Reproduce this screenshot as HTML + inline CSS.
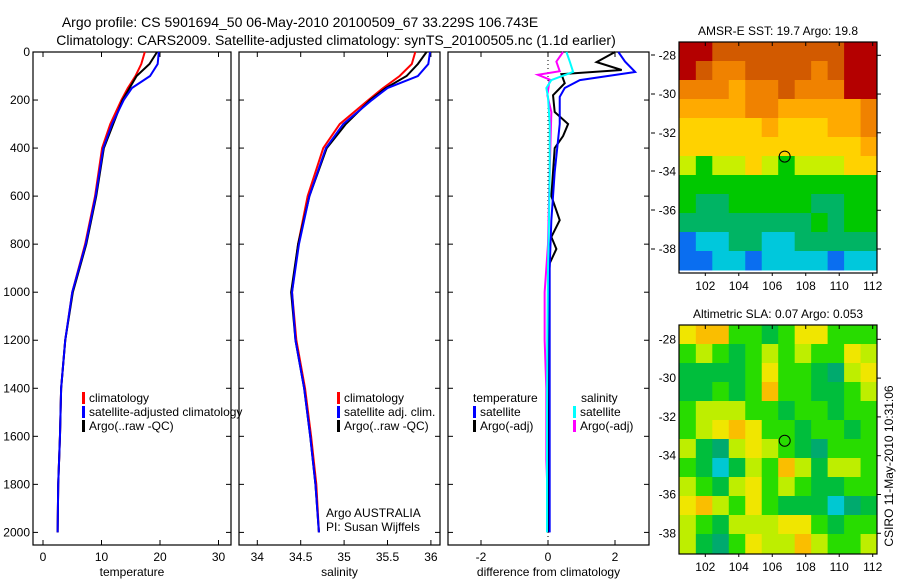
<!DOCTYPE html>
<html><head><meta charset="utf-8">
<style>
body{margin:0;background:#fff;}
svg{display:block;font-family:"Liberation Sans",sans-serif;}
</style></head>
<body>
<svg id="fig" width="900" height="580" viewBox="0 0 900 580" xmlns="http://www.w3.org/2000/svg">
<rect width="900" height="580" fill="#fff"/>
<text x="300" y="27" font-size="14" text-anchor="middle">Argo profile: CS 5901694_50 06-May-2010 20100509_67 33.229S 106.743E</text>
<text x="336" y="45" font-size="14" text-anchor="middle">Climatology: CARS2009. Satellite-adjusted climatology: synTS_20100505.nc (1.1d earlier)</text>
<g id="g"></g>
<text transform="translate(893,466) rotate(-90)" font-size="12" text-anchor="middle">CSIRO 11-May-2010 10:31:06</text>
</svg>
<script>
// ---------- data ----------
const depthTicks=[0,200,400,600,800,1000,1200,1400,1600,1800,2000];
const tempTicks=[0,10,20,30];
const salTicks=[34,34.5,35,35.5,36];
const salTickLabels=["34","34.5","35","35.5","36"];
const diffTicks=[-2,0,2];
const profDepths=[0,50,100,150,200,300,400,600,800,1000,1200,1400,1600,1800,2000];
const tempClim=[17.4,16.8,15.8,14.5,13.4,11.5,10.1,8.9,7.2,5.0,3.8,3.1,2.9,2.6,2.5];
const tempSat=[19.8,19.6,18.3,15.2,13.8,11.8,10.3,9.0,7.3,5.0,3.8,3.1,2.9,2.6,2.5];
const tempArgo=[19.5,18.2,16.0,14.8,13.6,12.0,10.4,9.1,7.4,5.1,3.8,3.1,2.9,2.6,2.5];
const salClim=[35.82,35.78,35.64,35.45,35.28,34.95,34.76,34.58,34.47,34.40,34.45,34.55,34.62,34.68,34.71];
const salSat=[35.99,35.97,35.85,35.5,35.32,34.99,34.79,34.60,34.48,34.40,34.44,34.54,34.61,34.67,34.71];
const salArgo=[35.95,35.85,35.72,35.48,35.30,35.02,34.80,34.60,34.47,34.39,34.44,34.54,34.61,34.67,34.71];
const diffDepthsA=[0,42,75,92,130,180,250,300,350,400,600,700,770,820,880,1000,1500,2000];
const diffTempArgo=[2.0,1.45,2.2,0.4,0.5,0.15,0.2,0.6,0.45,0.2,0.1,0.35,0.1,0.25,0.05,0.02,0.02,0.02];
const diffDepthsS=[0,40,83,117,150,187,300,500,700,900,1200,1500,2000];
const diffTempSat=[2.1,2.3,2.6,0.95,0.5,0.35,0.35,0.2,0.1,0.05,0.05,0.05,0.05];
const diffSalSat=[0.55,0.65,0.75,0.1,-0.05,0.0,0.05,0.05,0.03,0.0,-0.02,-0.03,-0.03];
const diffDepthsM=[0,40,80,95,115,180,250,500,800,1000,1200,1400,1700,2000];
const diffSalArgo=[0.45,0.25,0.35,-0.3,0.05,-0.02,0.1,0.05,0.0,-0.1,-0.1,-0.05,-0.05,0.03];
const sstRows=["998888888899","987788887899","777677877799","666677666667","555556555667","555555555556","434454344455","333333333333","322333332233","222222223233","011221122222","001101111011"];
const slaRows=["566332355333","343234343354","222235332145","223236332234","344433233233","345653323323","421454321333","320243642443","432453432233","564353222012","432444553233","421354464334"];
const sstColors=["#0a6ef0","#00c8dc","#00b464","#00c800","#c8f000","#ffd200","#ffaa00","#f08200","#d25a00","#b40000"];
const slaColors=["#00c8d2","#00aa6e","#00be3c","#28dc00","#beee00","#f0e600","#fabe00"];
// ---------- helpers ----------
const g=document.getElementById('g');
const NS="http://www.w3.org/2000/svg";
function mk(tag,a,parent){const e=document.createElementNS(NS,tag);for(const k in a)e.setAttribute(k,a[k]);(parent||g).appendChild(e);return e;}
const yD=d=>52+d*0.2402;
function profilePanel(name,x0,x1,xs,ticks,labels,xlabel){
  const f=mk('rect',{x:x0,y:52,width:x1-x0,height:493,fill:'none',stroke:'#000','stroke-width':1.2});
  
  
  ticks.forEach((t,i)=>{
    const x=xs(t);
    mk('line',{x1:x,x2:x,y1:545,y2:540,stroke:'#000'});
    mk('line',{x1:x,x2:x,y1:52,y2:57,stroke:'#000'});
    const tx=mk('text',{x:x,y:561,'font-size':12,'text-anchor':'middle'});
    tx.textContent=labels[i];
    
    
  });
  depthTicks.forEach(d=>{
    mk('line',{x1:x0,x2:x0+5,y1:yD(d),y2:yD(d),stroke:'#000'});
    mk('line',{x1:x1,x2:x1-5,y1:yD(d),y2:yD(d),stroke:'#000'});
  });
  const xl=mk('text',{x:(x0+x1)/2,y:576,'font-size':12,'text-anchor':'middle'});
  xl.textContent=xlabel;
  
  
}
function line(name,xs,vals,depths,color,w){
  const p=mk('polyline',{points:vals.map((v,i)=>xs(v)+','+yD(depths[i])).join(' '),fill:'none',stroke:color,'stroke-width':w||2});
  
  
}
function legend(name,x,y,items){
  items.forEach((it,i)=>{
    if(it[1]){mk('rect',{x:x,y:y+i*14-10,width:3,height:12,fill:it[1]});}
    const t=mk('text',{x:x+(it[1]?7:0),y:y+i*14,'font-size':12});
    t.textContent=it[0];
    
    
  });
}
// ---------- panel 1: temperature ----------
const xT=v=>43+v*5.85;
profilePanel('temperature-panel',33,231,xT,tempTicks,tempTicks.map(String),'temperature');
depthTicks.forEach(d=>{const t=mk('text',{x:30,y:yD(d)+4,'font-size':12,'text-anchor':'end'});t.textContent=d;

});
line('temp-climatology-line',xT,tempClim,profDepths,'#f00');
line('temp-argo-line',xT,tempArgo,profDepths,'#000');
line('temp-satellite-line',xT,tempSat,profDepths,'#00f');
legend('temp-legend',82,402,[['climatology','#f00'],['satellite-adjusted climatology','#00f'],['Argo(..raw -QC)','#000']]);
// ---------- panel 2: salinity ----------
const xS=v=>257.3+(v-34)*86.8;
profilePanel('salinity-panel',239,440,xS,salTicks,salTickLabels,'salinity');
line('sal-climatology-line',xS,salClim,profDepths,'#f00');
line('sal-argo-line',xS,salArgo,profDepths,'#000');
line('sal-satellite-line',xS,salSat,profDepths,'#00f');
legend('sal-legend',337,402,[['climatology','#f00'],['satellite adj. clim.','#00f'],['Argo(..raw -QC)','#000']]);
const a1=mk('text',{x:326,y:517,'font-size':12});a1.textContent='Argo AUSTRALIA';


const a2=mk('text',{x:326,y:531,'font-size':12});a2.textContent='PI: Susan Wijffels';


// ---------- panel 3: differences ----------
const xD=v=>548+v*33.5;
profilePanel('difference-panel',448,649,xD,diffTicks,diffTicks.map(String),'difference from climatology');
mk('line',{x1:xD(0),x2:xD(0),y1:52,y2:545,stroke:'#000','stroke-dasharray':'1,3'});
line('diff-sal-argo-line',xD,diffSalArgo,diffDepthsM,'#f0f');
line('diff-temp-argo-line',xD,diffTempArgo,diffDepthsA,'#000');
line('diff-temp-satellite-line',xD,diffTempSat,diffDepthsS,'#00f');
line('diff-sal-satellite-line',xD,diffSalSat,diffDepthsS,'#0ff');
legend('diff-temp-legend',473,402,[['temperature',null]]);
legend('diff-temp-legend',473,416,[['satellite','#00f'],['Argo(-adj)','#000']]);
legend('diff-sal-legend',581,402,[['salinity',null]]);
legend('diff-sal-legend',573,416,[['satellite','#0ff'],['Argo(-adj)','#f0f']]);
[55,94,133,171,210,249].forEach(y=>mk('line',{x1:651,x2:655,y1:y,y2:y,stroke:'#000'}));
// ---------- maps ----------
const lonTicks=[102,104,106,108,110,112];
const latTicks=[-28,-30,-32,-34,-36,-38];
function map(name,title,rows,colors,top,bottom,lat28y,lat38y,dataBottom){
  const L=679,R=877,lon0=100.45,lon1=112.26;
  const xL=v=>705.3+(v-102)*16.74;
  const yL=v=>lat28y+(-28-v)*(lat38y-lat28y)/10;
  const latTop=-28+(lat28y-top)/((lat38y-lat28y)/10);
  const latBot=-28-(dataBottom-lat28y)/((lat38y-lat28y)/10);
  const nr=rows.length,nc=rows[0].length;
  const dLat=(latTop-latBot)/nr,dLon=(lon1-lon0)/nc;
  rows.forEach((r,i)=>{for(let j=0;j<nc;j++){
    const x=xL(lon0+j*dLon),y=yL(latTop-i*dLat);
    const c=mk('rect',{x:x,y:y,width:Math.min(xL(lon0+(j+1)*dLon)+0.5,R)-x,height:yL(latTop-(i+1)*dLat)-y+0.5,fill:colors[+r[j]]});
    
    
  }});
  const f=mk('rect',{x:L,y:top,width:R-L,height:bottom-top,fill:'none',stroke:'#000','stroke-width':1.2});
  
  
  const t=mk('text',{x:(L+R)/2,y:top-7,'font-size':12,'text-anchor':'middle'});t.textContent=title;
  
  
  lonTicks.forEach(v=>{const x=xL(v);
    mk('line',{x1:x,x2:x,y1:top,y2:top+4,stroke:'#000'});
    mk('line',{x1:x,x2:x,y1:bottom,y2:bottom+3,stroke:'#000'});
    const tx=mk('text',{x:x,y:bottom+17,'font-size':12,'text-anchor':'middle'});tx.textContent=v;
    
    });
  latTicks.forEach(v=>{const y=yL(v);
    mk('line',{x1:R,x2:R+4,y1:y,y2:y,stroke:'#000'});
    const tx=mk('text',{x:676,y:y+4,'font-size':12,'text-anchor':'end'});tx.textContent=v;
    
    });
  const m=mk('circle',{cx:xL(106.743),cy:yL(-33.229),r:5.5,fill:'none',stroke:'#000','stroke-width':1});
  
  
}
map('sst-map','AMSR-E SST: 19.7 Argo: 19.8',sstRows,sstColors,42,273,55.3,249,270);
map('sla-map','Altimetric SLA: 0.07 Argo: 0.053',slaRows,slaColors,325,554,339.3,533.3,553);
</script>
</body></html>
